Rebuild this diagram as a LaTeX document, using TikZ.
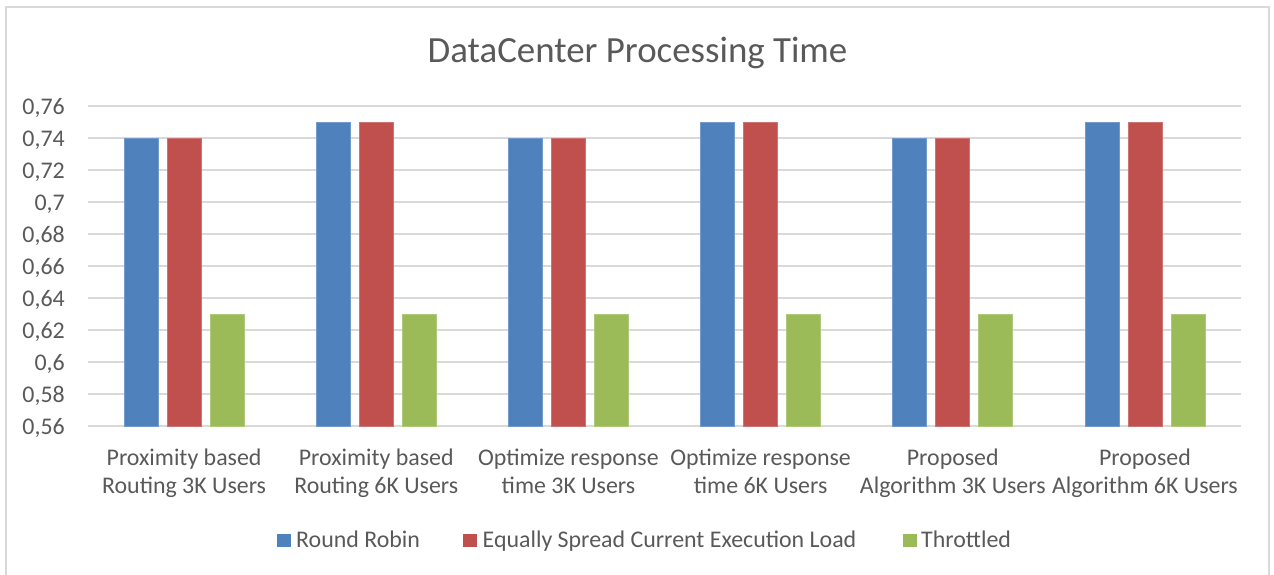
\documentclass[tikz,border=0pt]{standalone}
\usepackage{fontspec}
\setmainfont{Carlito}
\definecolor{rrblue}{HTML}{4F81BD}
\definecolor{esred}{HTML}{C0504D}
\definecolor{thgreen}{HTML}{9BBB59}
\definecolor{txtgrey}{HTML}{595959}
\definecolor{gridgrey}{HTML}{D9D9D9}
\begin{document}
\begin{tikzpicture}[x=1pt,y=-1pt,
  txt/.style={text=txtgrey,inner sep=0pt,font=\fontsize{23.9}{28}\selectfont},
  titletxt/.style={text=txtgrey,inner sep=0pt,font=\fontsize{36.9}{40}\selectfont},
  gridline/.style={draw=gridgrey,line width=1.6pt},
  frame/.style={draw=gridgrey,line width=1.8pt},
  bar/.style={line width=0.6pt}]
\useasboundingbox (0,0) rectangle (1274,574);
% frame
\draw[frame] (6,580) -- (6,7) -- (1269,7) -- (1269,580);
% title
\node[titletxt,anchor=base] (title) at (637.5,62.5) {DataCenter Processing Time};
% gridlines and tick labels
\foreach \k/\lab in {0/{0,56},1/{0,58},2/{0,6},3/{0,62},4/{0,64},5/{0,66},6/{0,68},7/{0,7},8/{0,72},9/{0,74},10/{0,76}}{
  \pgfmathsetmacro{\yy}{426-32*\k}
  \draw[gridline] (88,\yy) -- (1241,\yy);
  \node[txt,anchor=base east] (tick\k) at (65,\yy+8.5) {\lab};
}
% bars
\foreach \i/\top in {0/138,1/122,2/138,3/122,4/138,5/122}{
  \pgfmathsetmacro{\c}{88+192.17*(\i+0.5)}
  \fill[rrblue,draw=rrblue!80!white,bar] (\c-60,426) rectangle (\c-26,\top);
  \fill[esred,draw=esred!80!white,bar] (\c-17,426) rectangle (\c+17,\top);
  \fill[thgreen,draw=thgreen!80!white,bar] (\c+26,426) rectangle (\c+60,314);
}
% category labels
\foreach \i/\la/\lb in {0/{Proximity based}/{Routing 3K Users},1/{Proximity based}/{Routing 6K Users},2/{Optimize response}/{time 3K Users},3/{Optimize response}/{time 6K Users},4/{Proposed}/{Algorithm 3K Users},5/{Proposed}/{Algorithm 6K Users}}{
  \pgfmathsetmacro{\c}{88+192.17*(\i+0.5)}
  \node[txt,anchor=base] (cata\i) at (\c,465) {\la};
  \node[txt,anchor=base] (catb\i) at (\c,493) {\lb};
}
% legend
\fill[rrblue] (277,533.5) rectangle (290.5,547);
\node[txt,anchor=base west] (leg1) at (296,547) {Round Robin};
\fill[esred] (463,533.5) rectangle (476.5,547);
\node[txt,anchor=base west] (leg2) at (482.5,547) {Equally Spread Current Execution Load};
\fill[thgreen] (903,533.5) rectangle (916.5,547);
\node[txt,anchor=base west] (leg3) at (921,547) {Throttled};
\end{tikzpicture}
\end{document}
